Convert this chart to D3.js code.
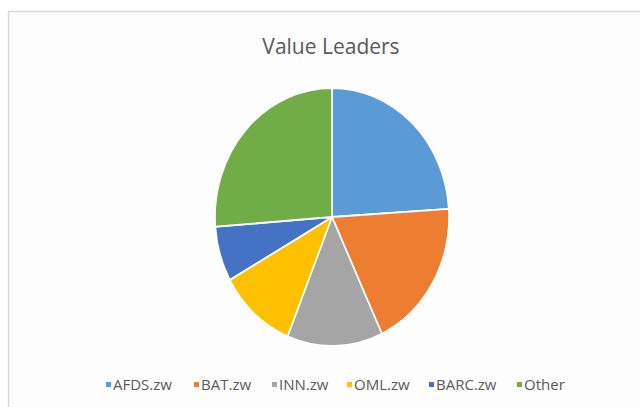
<!DOCTYPE html>
<html>
<head>
<meta charset="utf-8">
<script src="https://cdn.jsdelivr.net/npm/d3@7"></script>
<style>
  body { margin: 0; background: #ffffff; }
  svg { display: block; font-family: "Open Sans", "Noto Sans", sans-serif; }
</style>
</head>
<body>
<div id="chart"></div>
<script>
const categories = ["AFDS.zw", "BAT.zw", "INN.zw", "OML.zw", "BARC.zw", "Other"];
const shares = [24.0, 19.0, 13.2, 10.7, 6.9, 26.2];
const colors = ["#5b9bd5", "#ed7d31", "#a5a5a5", "#ffc000", "#4472c4", "#70ad47"];

const width = 640, height = 407;
const svg = d3.select("#chart").append("svg")
    .attr("width", width)
    .attr("height", height);

// chart area frame
svg.append("rect")
    .attr("x", 8.5).attr("y", 11.5)
    .attr("width", width).attr("height", height)
    .attr("fill", "#fdfdfd")
    .attr("stroke", "#d9d9d9")
    .attr("stroke-width", 1.5);

svg.append("text")
    .attr("x", 331).attr("y", 54)
    .attr("text-anchor", "middle")
    .attr("fill", "#595959")
    .style("font-size", "21px")
    .text("Value Leaders");

const rx = 117, ry = 129;
const pie = d3.pie().sort(null).value(d => d);
const arc = d3.arc().innerRadius(0).outerRadius(rx);

const g = svg.append("g")
    .attr("transform", `translate(332,217) scale(1,${ry / rx})`);

g.selectAll("path")
    .data(pie(shares))
    .enter()
    .append("path")
    .attr("d", arc)
    .attr("fill", (d, i) => colors[i])
    .attr("stroke", "#ffffff")
    .attr("stroke-width", 1.6);

// legend
const legend = svg.append("g").attr("transform", "translate(0,385)");
const startX = [106, 194, 272, 347, 429, 517];
const item = legend.selectAll("g")
    .data(categories)
    .enter()
    .append("g")
    .attr("transform", (d, i) => `translate(${startX[i]},0)`);

item.append("rect")
    .attr("x", 0).attr("y", -3)
    .attr("width", 5).attr("height", 5)
    .attr("fill", (d, i) => colors[i]);

item.append("text")
    .attr("x", 7).attr("y", 0)
    .attr("dy", "0.35em")
    .attr("fill", "#595959")
    .style("font-size", "15px")
    .text(d => d);
</script>
</body>
</html>
